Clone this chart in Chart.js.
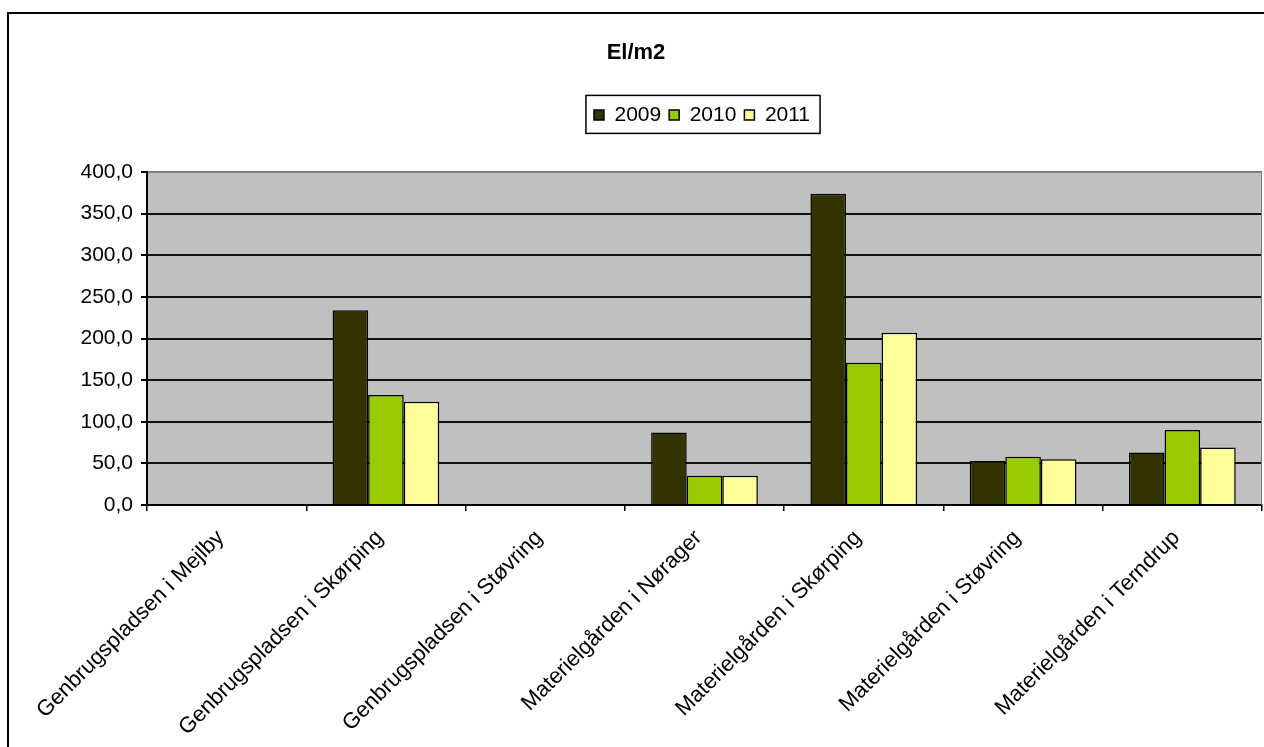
<!DOCTYPE html>
<html>
<head>
<meta charset="utf-8">
<script src="https://cdn.jsdelivr.net/npm/chart.js@4/dist/chart.umd.min.js"></script>
<style>
html,body{margin:0;padding:0;background:#fff;overflow:hidden}
canvas{display:block}
</style>
</head>
<body>
<canvas id="c" width="1264" height="747"></canvas>
<script>
const chartTitle = 'El/m2';
const categories = [
  'Genbrugspladsen i Mejlby',
  'Genbrugspladsen i Skørping',
  'Genbrugspladsen i Støvring',
  'Materielgården i Nørager',
  'Materielgården i Skørping',
  'Materielgården i Støvring',
  'Materielgården i Terndrup'
];
const seriesNames = ['2009', '2010', '2011'];
const values2009 = [null, 234, null, 87, 374, 53, 63];
const values2010 = [null, 132, null, 35, 171, 58, 90];
const values2011 = [null, 124, null, 35, 207, 55, 69];
const yTickLabels = ['0,0', '50,0', '100,0', '150,0', '200,0', '250,0', '300,0', '350,0', '400,0'];
const yMin = 0, yMax = 400, yStep = 50;

const FONT = '"Liberation Sans", Arial, sans-serif';
Chart.defaults.font.family = FONT;
Chart.defaults.color = '#000';

const colors = ['#333300', '#99CC00', '#FFFF99'];
const seriesValues = [values2009, values2010, values2011];

const framePlugin = {
  id: 'frame',
  afterLayout(chart) {
    const lg = chart.legend;
    if (!lg || !lg.lineWidths) return;
    const p = lg.options.labels.padding;
    const lw = lg.lineWidths[0];
    const start = (lg.left + p + lg.right - lw) / 2;
    const curCenter = start + (lw - p) / 2;
    const shift = 702 - curCenter;
    lg.left += shift;
    lg.right += shift;
  },
  beforeDraw(chart) {
    const {ctx, chartArea: a} = chart;
    ctx.save();
    ctx.fillStyle = '#fff';
    ctx.fillRect(0, 0, chart.width, chart.height);
    ctx.strokeStyle = '#000';
    ctx.lineWidth = 2;
    ctx.strokeRect(8, 13, chart.width + 40, chart.height + 40);
    ctx.fillStyle = '#C0C0C0';
    ctx.fillRect(a.left, a.top, a.right - a.left, a.bottom - a.top);
    ctx.restore();
  },
  afterDraw(chart) {
    const {ctx, chartArea: a} = chart;
    ctx.save();
    ctx.strokeStyle = '#808080';
    ctx.lineWidth = 1;
    ctx.beginPath();
    ctx.moveTo(a.right - 0.5, a.top);
    ctx.lineTo(a.right - 0.5, a.bottom);
    ctx.stroke();
    const hb = chart.legend && chart.legend.legendHitBoxes;
    if (hb && hb.length) {
      const first = hb[0], last = hb[hb.length - 1];
      const x0 = first.left - 8, x1 = last.left + last.width + 10;
      const y0 = first.top - 9, y1 = first.top + first.height + 8;
      ctx.strokeStyle = '#000';
      ctx.lineWidth = 1.5;
      ctx.strokeRect(x0, y0, x1 - x0, y1 - y0);
    }
    ctx.restore();
  }
};

new Chart(document.getElementById('c'), {
  type: 'bar',
  data: {
    labels: categories,
    datasets: seriesNames.map((n, i) => ({
      label: n,
      data: seriesValues[i],
      backgroundColor: colors[i],
      borderColor: '#000',
      borderWidth: 1.5,
      categoryPercentage: 0.67,
      barPercentage: 1.0
    }))
  },
  options: {
    responsive: false,
    devicePixelRatio: 1,
    animation: false,
    layout: {padding: {left: 10, right: 2, top: 0, bottom: 0}},
    plugins: {
      title: {
        display: true,
        text: chartTitle,
        color: '#000',
        font: {size: 22, weight: 'bold', family: FONT},
        padding: {top: 40, bottom: 30}
      },
      subtitle: {
        display: true,
        text: ' ',
        weight: 500,
        font: {size: 10},
        padding: {top: 24.6, bottom: 0}
      },
      legend: {
        display: true,
        position: 'top',
        labels: {
          boxWidth: 10,
          boxHeight: 10,
          padding: 8,
          color: '#000',
          font: {size: 21, family: FONT}
        }
      },
      tooltip: {enabled: false}
    },
    scales: {
      x: {
        grid: {
          display: true,
          offset: true,
          drawOnChartArea: false,
          drawTicks: true,
          tickLength: 6,
          color: '#000',
          lineWidth: 1.5
        },
        border: {display: true, color: '#000', width: 2},
        ticks: {
          autoSkip: false,
          minRotation: 45,
          maxRotation: 45,
          padding: 14,
          labelOffset: -6,
          color: '#000',
          font: {size: 22, family: FONT}
        },
        afterFit(s) { s.height = 242; }
      },
      y: {
        min: yMin,
        max: yMax,
        ticks: {
          stepSize: yStep,
          padding: 8,
          color: '#000',
          font: {size: 21, family: FONT},
          callback: (v, i) => yTickLabels[i]
        },
        grid: {
          color: c => (c.tick && c.tick.value === yMax) ? '#808080' : '#111',
          tickColor: '#000',
          tickLength: 6,
          lineWidth: 2
        },
        border: {display: true, color: '#000', width: 2},
        afterFit(s) { s.width = 137; }
      }
    }
  },
  plugins: [framePlugin]
});
</script>
</body>
</html>
